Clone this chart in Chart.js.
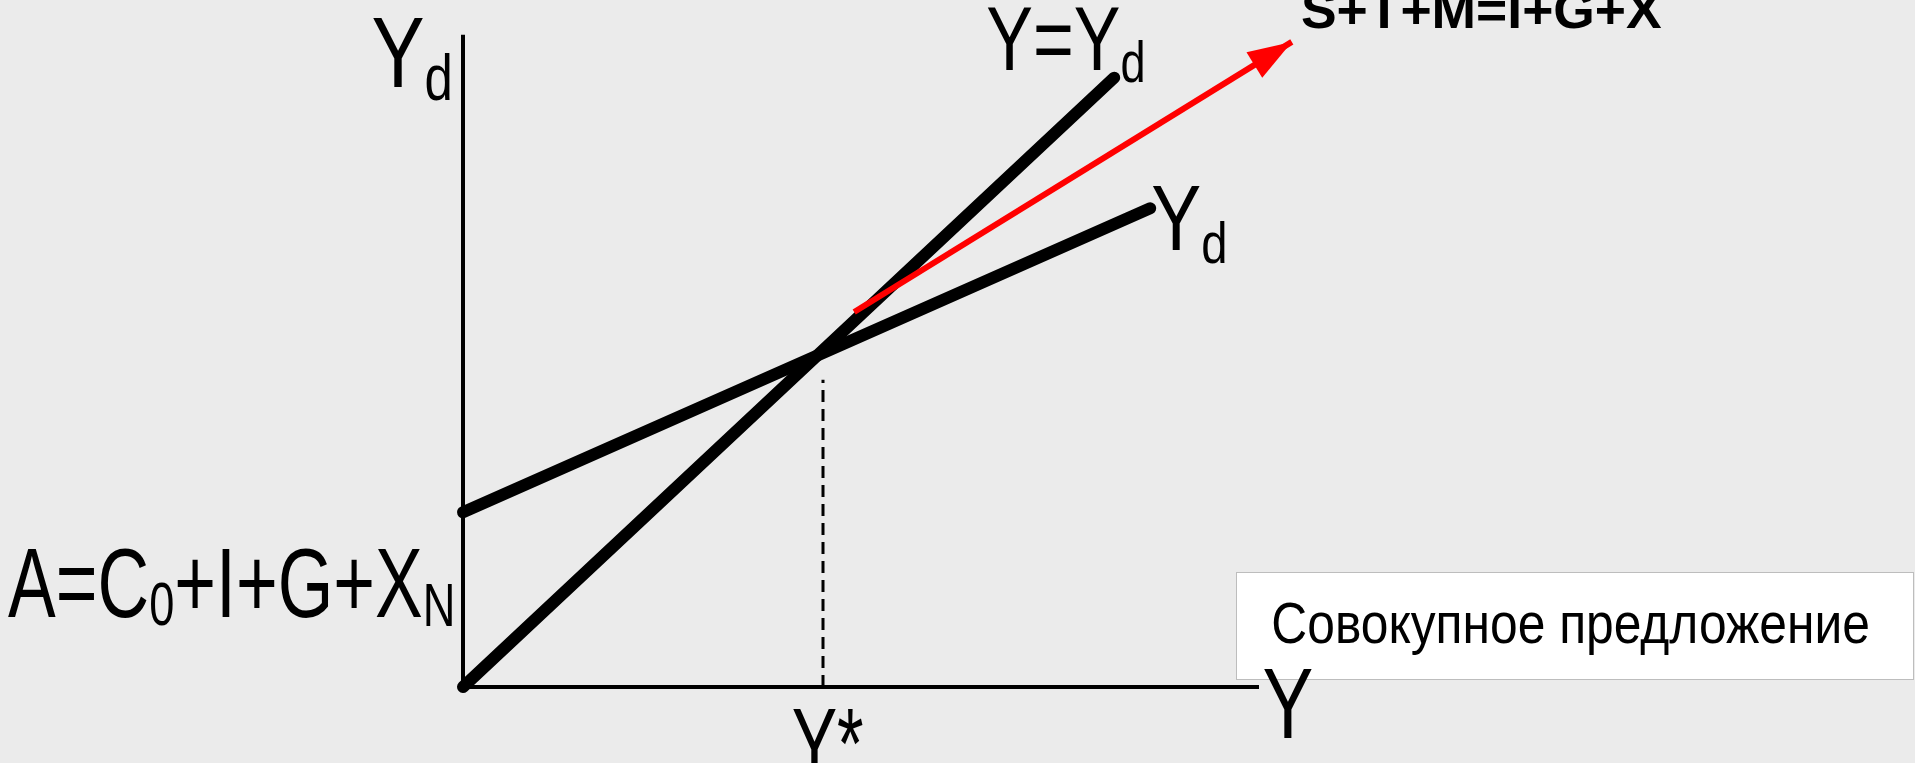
<!DOCTYPE html>
<html>
<head>
<meta charset="utf-8">
<script src="https://cdn.jsdelivr.net/npm/chart.js@4.4.1/dist/chart.umd.min.js"></script>
<style>
  html, body { margin: 0; padding: 0; background: #ebebeb; overflow: hidden; }
  canvas { display: block; }
</style>
</head>
<body>
<canvas id="cross" width="1915" height="763"></canvas>
<script>
// Keynesian cross, schematic units: income Y on x, demand Yd on y
const axisY      = [{ x: 0, y: 0 }, { x: 0, y: 10.19 }];
const axisX      = [{ x: 0, y: 0 }, { x: 9.95, y: 0 }];
const lineBisect = [{ x: 0, y: 0 }, { x: 8.14, y: 9.52 }];      // Y = Yd
const lineDemand = [{ x: 0, y: 2.73 }, { x: 8.59, y: 7.48 }];   // Yd = A + cY
const lineEquil  = [{ x: 4.5, y: 0 }, { x: 4.5, y: 4.8 }];      // Y*
const arrowRed   = [{ x: 4.89, y: 5.86 }, { x: 10.36, y: 10.08 }];

const FONT = "'Liberation Sans', Arial, 'Helvetica', sans-serif";

// text labels: parts are [text, font px, baseline drop]
const labels = [
    { x: 373,  base: 87,  w: 77,  parts: [['Y', 100, 0], ['d', 64, 13]] },
    { x: 987,  base: 70,  w: 156, parts: [['Y=Y', 90, 0], ['d', 58, 12]] },
    { x: 1153, base: 250, w: 72,  parts: [['Y', 92, 0], ['d', 58, 13]] },
    { x: 8,    base: 617, w: 444, parts: [['A=C', 98, 0], ['0', 62, 8], ['+I+G+X', 98, 0], ['N', 62, 9]] },
    { x: 793,  base: 778, w: 70,  parts: [['Y*', 100, 0]] },
    { x: 1264, base: 738, w: 48,  parts: [['Y', 100, 0]] },
    { x: 1302, base: 28,  w: 360, bold: true, parts: [['S+T+M=I+G+X', 52, 0]] },
    { x: 1273, base: 643, w: 595, parts: [['Совокупное предложение', 58, 0]] },
];

const backdrop = {
    id: 'backdrop',
    beforeDraw(chart) {
        const ctx = chart.ctx;
        ctx.save();
        ctx.fillStyle = '#ebebeb';
        ctx.fillRect(0, 0, chart.width, chart.height);
        ctx.restore();
    }
};

const arrowHead = {
    id: 'arrowHead',
    afterDatasetsDraw(chart) {
        const meta = chart.getDatasetMeta(0);
        const p0 = meta.data[0], p1 = meta.data[meta.data.length - 1];
        const a = Math.atan2(p1.y - p0.y, p1.x - p0.x);
        const ctx = chart.ctx;
        ctx.save();
        ctx.translate(p1.x, p1.y);
        ctx.rotate(a);
        ctx.fillStyle = '#ff0000';
        ctx.beginPath();
        ctx.moveTo(0, 0);
        ctx.lineTo(-44, -15);
        ctx.lineTo(-44, 15);
        ctx.closePath();
        ctx.fill();
        ctx.restore();
    }
};

function drawLabel(ctx, lb) {
    const weight = lb.bold ? 'bold ' : '';
    const m = lb.parts.map(([t, size]) => {
        ctx.font = weight + size + 'px ' + FONT;
        return ctx.measureText(t);
    });
    let visible = 0;
    for (let i = 0; i < m.length - 1; i++) visible += m[i].width;
    visible += m[m.length - 1].actualBoundingBoxRight + m[0].actualBoundingBoxLeft;
    const sx = lb.w / visible;
    ctx.save();
    ctx.translate(lb.x + m[0].actualBoundingBoxLeft * sx, lb.base);
    ctx.scale(sx, 1);
    ctx.fillStyle = '#000';
    ctx.textBaseline = 'alphabetic';
    let cx = 0;
    lb.parts.forEach(([t, size, dy], i) => {
        ctx.font = weight + size + 'px ' + FONT;
        ctx.fillText(t, cx, dy);
        cx += m[i].width;
    });
    ctx.restore();
}

const annotations = {
    id: 'annotations',
    afterDraw(chart) {
        const ctx = chart.ctx;
        // white box behind "Совокупное предложение"
        ctx.save();
        ctx.fillStyle = '#ffffff';
        ctx.fillRect(1236, 572, 678, 108);
        ctx.strokeStyle = '#bdbdbd';
        ctx.lineWidth = 1;
        ctx.strokeRect(1236.5, 572.5, 677, 107);
        ctx.restore();
        labels.forEach(lb => drawLabel(ctx, lb));
    }
};

const lineDs = (data, color, width, extra) => Object.assign({
    data,
    showLine: true,
    borderColor: color,
    borderWidth: width,
    pointRadius: 0,
    pointHoverRadius: 0,
    fill: false,
    clip: false,
    borderCapStyle: 'round',
}, extra || {});

new Chart(document.getElementById('cross'), {
    type: 'scatter',
    data: {
        datasets: [
            lineDs(arrowRed, '#ff0000', 6, { borderCapStyle: 'butt' }),
            lineDs(lineBisect, '#000000', 12),
            lineDs(lineDemand, '#000000', 12),
            lineDs(lineEquil, '#000000', 3, { borderDash: [12, 7], borderCapStyle: 'butt' }),
            lineDs(axisX, '#000000', 4, { borderCapStyle: 'butt' }),
            lineDs(axisY, '#000000', 4, { borderCapStyle: 'butt' }),
        ]
    },
    options: {
        responsive: false,
        animation: false,
        events: [],
        layout: { padding: { left: 463, right: 652, top: 47, bottom: 76 } },
        scales: {
            x: { type: 'linear', min: 0, max: 10, display: false },
            y: { type: 'linear', min: 0, max: 10, display: false },
        },
        plugins: {
            legend: { display: false },
            tooltip: { enabled: false },
        }
    },
    plugins: [backdrop, arrowHead, annotations]
});
</script>
</body>
</html>
